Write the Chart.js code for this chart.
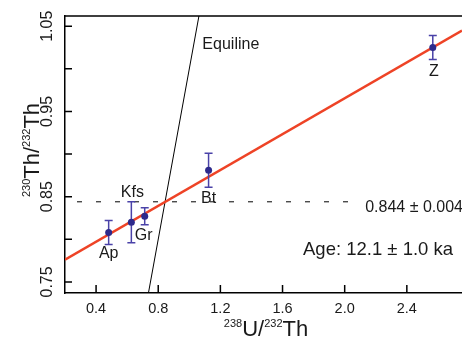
<!DOCTYPE html>
<html>
<head>
<meta charset="utf-8">
<script src="https://cdn.jsdelivr.net/npm/chart.js@4.4.1/dist/chart.umd.min.js"></script>
<style>
  html, body { margin: 0; padding: 0; background: #fff; }
</style>
</head>
<body>
<canvas id="isochron" width="462" height="338"></canvas>
<script>
const FONT = "'Liberation Sans', Arial, Helvetica, sans-serif";

// mineral separates
const phases = ["Ap", "Kfs", "Gr", "Bt", "Z"];
const uTh = [0.481, 0.627, 0.713, 1.124, 2.567];
const thTh = [0.808, 0.820, 0.827, 0.881, 1.025];
const thErr = [0.014, 0.024, 0.010, 0.020, 0.014];

// reference lines
const isochronX = [0.2, 2.755];
const isochronY = [0.776, 1.045];
const equilineX = [0.7, 1.1];
const equilineY = [0.7, 1.1];
const meanX = [0.2, 2.1];
const meanY = [0.844, 0.844];

const xTicks = [0.4, 0.8, 1.2, 1.6, 2.0, 2.4];
const xTickLabels = ["0.4", "0.8", "1.2", "1.6", "2.0", "2.4"];
const yTicks = [0.75, 0.80, 0.85, 0.90, 0.95, 1.00, 1.05];
const yTickLabels = ["0.75", "", "0.85", "", "0.95", "", "1.05"];

const meanText = "0.844 ± 0.004";
const ageText = "Age: 12.1 ± 1.0 ka";

const toPoints = (xs, ys) => xs.map((x, i) => ({ x: x, y: ys[i] }));

const pointColor = "#2d2a8c";
const barColor = "#4a42a8";
const lineColor = "#ee4326";

// draws text with superscript pieces, centred on x
function drawSupText(ctx, parts, x, y, size) {
  const supSize = size / 2;
  let total = 0;
  parts.forEach(p => {
    ctx.font = (p.sup ? supSize : size) + "px " + FONT;
    p.w = ctx.measureText(p.t).width;
    total += p.w;
  });
  let cx = x - total / 2;
  ctx.textAlign = "left";
  ctx.textBaseline = "alphabetic";
  parts.forEach(p => {
    ctx.font = (p.sup ? supSize : size) + "px " + FONT;
    ctx.fillText(p.t, cx, p.sup ? y - size * 0.41 : y);
    cx += p.w;
  });
}

const decor = {
  id: "decor",
  beforeDatasetDraw(chart, args) {
    if (args.index !== 0) return;
    const ctx = chart.ctx;
    const xs = chart.scales.x, ys = chart.scales.y;
    ctx.save();
    ctx.strokeStyle = barColor;
    ctx.lineWidth = 1.5;
    uTh.forEach((u, i) => {
      const px = xs.getPixelForValue(u);
      const top = ys.getPixelForValue(thTh[i] + thErr[i]);
      const bot = ys.getPixelForValue(thTh[i] - thErr[i]);
      ctx.beginPath();
      ctx.moveTo(px, top); ctx.lineTo(px, bot);
      ctx.moveTo(px - 4, top); ctx.lineTo(px + 4, top);
      ctx.moveTo(px - 4, bot); ctx.lineTo(px + 4, bot);
      ctx.stroke();
    });
    ctx.restore();
  },
  afterDraw(chart) {
    const ctx = chart.ctx;
    const area = chart.chartArea;
    const xs = chart.scales.x, ys = chart.scales.y;
    ctx.save();
    ctx.strokeStyle = "#000";
    ctx.lineWidth = 1.5;
    ctx.beginPath();
    ctx.moveTo(area.left, area.top);
    ctx.lineTo(area.right, area.top);
    // inward tick marks
    xs.ticks.forEach(t => {
      const px = xs.getPixelForValue(t.value);
      ctx.moveTo(px, area.bottom);
      ctx.lineTo(px, area.bottom - 8);
    });
    ys.ticks.forEach(t => {
      const py = ys.getPixelForValue(t.value);
      ctx.moveTo(area.left, py);
      ctx.lineTo(area.left + 7, py);
    });
    ctx.stroke();

    ctx.fillStyle = "#1a1a1a";
    drawSupText(ctx, [{ t: "238", sup: true }, { t: "U/" }, { t: "232", sup: true }, { t: "Th" }],
      266, 336, 22);
    ctx.save();
    ctx.translate(39, 150);
    ctx.rotate(-Math.PI / 2);
    drawSupText(ctx, [{ t: "230", sup: true }, { t: "Th/" }, { t: "232", sup: true }, { t: "Th" }],
      0, 0, 22);
    ctx.restore();

    // phase labels, offsets from each point
    const offsets = [[0, 26, "center"], [1, -25, "center"], [-10, 24, "left"], [0, 33, "center"], [1, 28, "center"]];
    ctx.font = "16px " + FONT;
    ctx.textBaseline = "alphabetic";
    phases.forEach((name, i) => {
      const o = offsets[i];
      ctx.textAlign = o[2];
      ctx.fillText(name, xs.getPixelForValue(uTh[i]) + o[0], ys.getPixelForValue(thTh[i]) + o[1]);
    });
    ctx.textAlign = "left";
    ctx.fillText("Equiline", xs.getPixelForValue(1.084), ys.getPixelForValue(1.023));

    ctx.font = "16px " + FONT;
    ctx.fillText(meanText, xs.getPixelForValue(2.132), ys.getPixelForValue(meanY[0]) + 10);

    ctx.font = "18.5px " + FONT;
    ctx.fillText(ageText, 303, 255);
    ctx.restore();
  }
};

new Chart(document.getElementById("isochron"), {
  type: "scatter",
  data: {
    datasets: [
      {
        label: "samples",
        data: toPoints(uTh, thTh),
        backgroundColor: pointColor,
        borderColor: pointColor,
        pointRadius: 3.5,
        pointBorderWidth: 0,
      },
      {
        label: "isochron",
        data: toPoints(isochronX, isochronY),
        showLine: true,
        borderColor: lineColor,
        borderWidth: 2.5,
        pointRadius: 0,
      },
      {
        label: "equiline",
        data: toPoints(equilineX, equilineY),
        showLine: true,
        borderColor: "#000",
        borderWidth: 1,
        pointRadius: 0,
      },
      {
        label: "mean",
        data: toPoints(meanX, meanY),
        showLine: true,
        borderColor: "#000",
        borderWidth: 1,
        borderDash: [5, 14],
        borderDashOffset: 7,
        pointRadius: 0,
      },
    ],
  },
  options: {
    responsive: false,
    animation: false,
    layout: { autoPadding: false, padding: { top: 16, right: 0, left: 0, bottom: 0 } },
    plugins: { legend: { display: false }, tooltip: { enabled: false } },
    scales: {
      x: {
        type: "linear",
        min: 0.2,
        max: 2.755,
        afterBuildTicks: s => { s.ticks = xTicks.map(v => ({ value: v })); },
        afterFit: s => { s.height = 45; s.paddingLeft = 0; s.paddingRight = 0; },
        grid: { display: false, drawTicks: false },
        border: { display: true, color: "#000", width: 1.5 },
        ticks: {
          padding: 7,
          maxRotation: 0,
          color: "#1a1a1a",
          font: { family: FONT, size: 14.5 },
          callback: (v, i) => xTickLabels[i],
        },
      },
      y: {
        type: "linear",
        min: 0.737,
        max: 1.062,
        afterBuildTicks: s => { s.ticks = yTicks.map(v => ({ value: v })); },
        afterFit: s => { s.width = 65; s.paddingTop = 0; s.paddingBottom = 0; },
        grid: { display: false, drawTicks: false },
        border: { display: true, color: "#000", width: 1.5 },
        ticks: {
          padding: 2,
          minRotation: 90,
          maxRotation: 90,
          crossAlign: "center",
          color: "#1a1a1a",
          font: { family: FONT, size: 16 },
          callback: (v, i) => yTickLabels[i],
        },
      },
    },
  },
  plugins: [decor],
});
</script>
</body>
</html>
